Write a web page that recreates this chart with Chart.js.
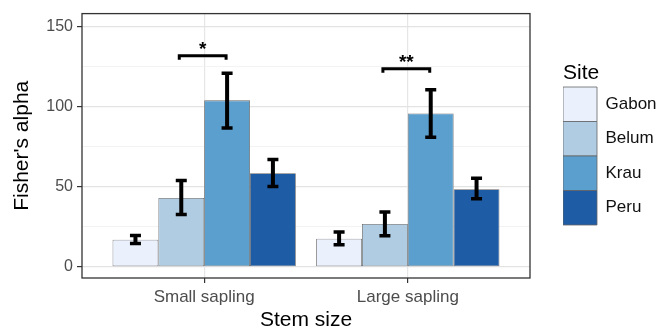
<!DOCTYPE html>
<html>
<head>
<meta charset="utf-8">
<script src="https://cdn.jsdelivr.net/npm/chart.js@4/dist/chart.umd.min.js"></script>
<style>
  body { margin: 0; background: #fff; }
</style>
</head>
<body>
<canvas id="chart" width="657" height="331"></canvas>
<script>
// stem size categories and the four sites
const categories = ["Small sapling", "Large sapling"];
const sites = ["Gabon", "Belum", "Krau", "Peru"];
const siteColors = ["#eaf0fc", "#afcce3", "#5b9fce", "#1f5ca6"];

// Fisher's alpha per site (small, large)
const gabon = [16.9, 17.5];
const belum = [43, 26.7];
const krau = [104, 95.8];
const peru = [58.5, 48.5];

// error bar ends per site (small, large)
const gabonLow = [14.6, 13.8], gabonHigh = [19.5, 21.8];
const belumLow = [32.7, 19.4], belumHigh = [53.9, 34.3];
const krauLow = [86.7, 81], krauHigh = [121, 110.6];
const peruLow = [50.2, 42.5], peruHigh = [67, 55.3];

// significance brackets Belum -> Krau
const bracketY = [131.9, 123.7];
const bracketLabels = ["*", "**"];

// y gridlines (major every 50, minor between)
const yGrid = [0, 25, 50, 75, 100, 125, 150];

const font = "'Liberation Sans', Arial, Helvetica, sans-serif";
const values = [gabon, belum, krau, peru];
const lows = [gabonLow, belumLow, krauLow, peruLow];
const highs = [gabonHigh, belumHigh, krauHigh, peruHigh];

const datasets = sites.map((s, i) => ({
    label: s,
    data: values[i].map((v, j) => ({ x: j + 1, y: v })),
    backgroundColor: siteColors[i],
    borderColor: "#666",
    borderWidth: 0.8,
    borderSkipped: false,
    categoryPercentage: 0.9,
    barPercentage: 1
}));

// panel border like ggplot theme_bw
const panelBorder = {
    id: "panelBorder",
    beforeDatasetsDraw(chart) {
        const a = chart.chartArea, ctx = chart.ctx;
        ctx.save();
        ctx.strokeStyle = "#333";
        ctx.lineWidth = 1.3;
        ctx.strokeRect(a.left, a.top, a.right - a.left, a.bottom - a.top);
        ctx.restore();
    }
};

// error bars drawn from the low/high arrays through the y scale
const errorBars = {
    id: "errorBars",
    afterDatasetsDraw(chart) {
        const ctx = chart.ctx, y = chart.scales.y;
        ctx.save();
        ctx.strokeStyle = "#000";
        chart.data.datasets.forEach((ds, i) => {
            chart.getDatasetMeta(i).data.forEach((bar, j) => {
                const y1 = y.getPixelForValue(lows[i][j]);
                const y2 = y.getPixelForValue(highs[i][j]);
                ctx.lineWidth = 4;
                ctx.beginPath();
                ctx.moveTo(bar.x, y1); ctx.lineTo(bar.x, y2);
                ctx.stroke();
                ctx.lineWidth = 3.5;
                ctx.beginPath();
                ctx.moveTo(bar.x - 5.5, y1); ctx.lineTo(bar.x + 5.5, y1);
                ctx.moveTo(bar.x - 5.5, y2); ctx.lineTo(bar.x + 5.5, y2);
                ctx.stroke();
            });
        });
        ctx.restore();
    }
};

// brackets with stars between Belum and Krau
const brackets = {
    id: "brackets",
    afterDatasetsDraw(chart) {
        const ctx = chart.ctx, y = chart.scales.y;
        const b1 = chart.getDatasetMeta(1).data, b2 = chart.getDatasetMeta(2).data;
        ctx.save();
        ctx.strokeStyle = "#000";
        ctx.fillStyle = "#000";
        ctx.lineWidth = 3;
        ctx.font = "bold 19px " + font;
        ctx.textAlign = "center";
        ctx.textBaseline = "alphabetic";
        bracketY.forEach((v, j) => {
            const py = y.getPixelForValue(v);
            const xa = b1[j].x - 2, xb = b2[j].x - 1;
            ctx.beginPath();
            ctx.moveTo(xa, py + 4); ctx.lineTo(xa, py); ctx.lineTo(xb, py); ctx.lineTo(xb, py + 4);
            ctx.stroke();
            ctx.fillText(bracketLabels[j], (xa + xb) / 2, py - 1);
        });
        ctx.restore();
    }
};

new Chart(document.getElementById("chart"), {
    type: "bar",
    data: { datasets: datasets },
    options: {
        responsive: false,
        animation: false,
        layout: { padding: { top: 10, left: 0, right: 0, bottom: 0 } },
        plugins: {
            tooltip: { enabled: false },
            legend: {
                position: "right",
                align: "start",
                maxWidth: 94,
                title: {
                    display: true,
                    text: "Site",
                    position: "start",
                    color: "#000",
                    font: { family: font, size: 21, lineHeight: 1.15 },
                    padding: { top: 52.5, bottom: 0.35 }
                },
                labels: {
                    boxWidth: 34,
                    boxHeight: 34.5,
                    padding: 0,
                    color: "#111",
                    font: { family: font, size: 17 }
                }
            }
        },
        scales: {
            x: {
                type: "linear",
                offset: false,
                min: 0.4,
                max: 2.6,
                afterBuildTicks: s => { s.ticks = categories.map((c, i) => ({ value: i + 1 })); },
                afterFit: s => { s.height = 53; },
                grid: { offset: false, color: "#e6e6e6", lineWidth: 1.2, tickColor: "#333", tickLength: 5 },
                border: { display: false },
                ticks: {
                    callback: v => categories[v - 1],
                    color: "#4d4d4d",
                    padding: 4,
                    maxRotation: 0,
                    font: { family: font, size: 17 }
                },
                title: {
                    display: true,
                    text: "Stem size",
                    color: "#000",
                    font: { family: font, size: 21, lineHeight: 1 },
                    padding: { top: 0, bottom: 0 }
                }
            },
            y: {
                min: -7,
                max: 158.2,
                afterBuildTicks: s => { s.ticks = yGrid.map(v => ({ value: v })); },
                afterFit: s => { s.width = 82; },
                grid: {
                    color: c => c.tick && c.tick.value % 50 === 0 ? "#e3e3e3" : "#f0f0f0",
                    lineWidth: c => c.tick && c.tick.value % 50 === 0 ? 1.2 : 0.8,
                    tickColor: c => c.tick && c.tick.value % 50 === 0 ? "#333" : "rgba(0,0,0,0)",
                    tickLength: 5
                },
                border: { display: false },
                ticks: {
                    callback: v => (v % 50 === 0 ? v : ""),
                    color: "#4d4d4d",
                    padding: 4,
                    font: { family: font, size: 16 }
                },
                title: {
                    display: true,
                    text: "Fisher's alpha",
                    color: "#000",
                    font: { family: font, size: 21, lineHeight: 1 },
                    padding: { top: 11.5, bottom: 0 }
                }
            },
            yRight: {
                position: "right",
                display: true,
                grid: { display: false },
                border: { display: false },
                ticks: { display: false },
                afterFit: s => { s.width = 33; }
            }
        }
    },
    plugins: [panelBorder, errorBars, brackets]
});
</script>
</body>
</html>
